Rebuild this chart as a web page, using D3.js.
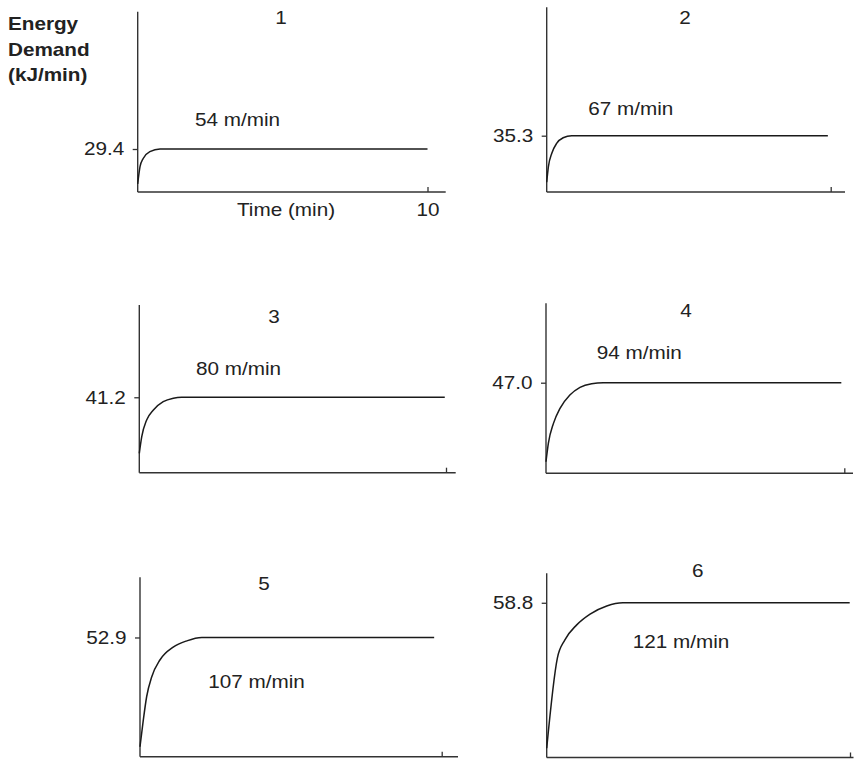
<!DOCTYPE html>
<html>
<head>
<meta charset="utf-8">
<script src="https://cdn.jsdelivr.net/npm/d3@7"></script>
<style>
  html, body { margin: 0; padding: 0; background: #fff; }
  svg { display: block; }
  text { font-family: "Liberation Sans", Arial, Helvetica, sans-serif; fill: #222; }
</style>
</head>
<body>
<script>
// Energy demand (kJ/min) over a 10-minute bout of walking at six speeds.

const panelIds = ["1", "2", "3", "4", "5", "6"];
const speedLabels = ["54 m/min", "67 m/min", "80 m/min", "94 m/min", "107 m/min", "121 m/min"];
const steadyState = [29.4, 35.3, 41.2, 47.0, 52.9, 58.8];   // labelled y tick per panel
const energyAxisMax = [123.3, 115.8, 91.6, 88.2, 79.6, 70.0]; // top of each energy axis
const timeTickValues = [10];
const timeTickLabels = ["10", "", "", "", "", ""];
const yTitleLines = ["Energy", "Demand", "(kJ/min)"];
const xTitle = "Time (min)";

// Energy demand samples: time (min) and energy (kJ/min)
const time1 = [0, 0.08, 0.19, 0.42, 0.77, 10];
const energy1 = [5.5, 17.3, 22.9, 27.6, 29.4, 29.4];
const time2 = [0, 0.06, 0.18, 0.35, 0.58, 0.88, 9.9];
const energy2 = [6.1, 15.9, 24.3, 30.5, 34.0, 35.3, 35.3];
const time3 = [0, 0.08, 0.24, 0.46, 0.78, 1.11, 1.38, 9.96];
const energy3 = [10.6, 19.7, 28.8, 34.3, 38.8, 40.7, 41.2, 41.2];
const time4 = [0, 0.08, 0.25, 0.47, 0.8, 1.14, 1.53, 1.92, 9.9];
const energy4 = [6.0, 15.6, 25.9, 33.7, 40.6, 44.6, 46.5, 47.0, 47.0];
const time5 = [0, 0.11, 0.22, 0.39, 0.66, 1.1, 1.55, 2.05, 9.75];
const energy5 = [4.4, 16.3, 26.6, 35.5, 42.9, 48.6, 51.4, 52.9, 52.9];
const time6 = [0, 0.35, 0.6, 0.99, 1.43, 1.98, 2.51, 9.99];
const energy6 = [3.5, 37.7, 44.7, 50.4, 54.5, 57.6, 58.8, 58.8];

const times = [time1, time2, time3, time4, time5, time6];
const energies = [energy1, energy2, energy3, energy4, energy5, energy6];

// Panel frames (pixels): y-axis x, x at t=10, end of x-axis line, top and bottom of y-axis
const layout = [
  { x0: 137.7, x10: 427.5, xEnd: 445.7, top: 11.7,  bottom: 192.0 },
  { x0: 546.7, x10: 830.7, xEnd: 845.0, top: 7.3,   bottom: 192.0 },
  { x0: 139.3, x10: 446.0, xEnd: 455.7, top: 305.0, bottom: 472.7 },
  { x0: 546.0, x10: 844.3, xEnd: 853.0, top: 303.3, bottom: 473.3 },
  { x0: 140.0, x10: 441.7, xEnd: 458.0, top: 577.3, bottom: 756.7 },
  { x0: 546.7, x10: 850.0, xEnd: 853.5, top: 573.3, bottom: 757.5 }
];
// Panel number (centred) and speed label (left aligned) positions
const numberPos = [[281, 24], [685, 24], [274, 323.3], [686, 317.3], [264, 590], [697.7, 576.7]];
const speedPos = [[195, 126], [588.3, 115], [196, 375], [596.7, 359.3], [208.3, 687.7], [632.7, 648.3]];

const W = 854, H = 759;
const FS = 18;       // body text size
const SX = 1.15;     // horizontal stretch of the lettering
const AXIS = "#333";

const svg = d3.select("body").append("svg")
  .attr("width", W).attr("height", H)
  .attr("viewBox", `0 0 ${W} ${H}`);

function label(g, x, y, str, anchor, bold) {
  return g.append("text")
    .attr("transform", `translate(${x},${y}) scale(${SX},1)`)
    .attr("text-anchor", anchor)
    .style("font-size", FS + "px")
    .style("font-weight", bold ? "bold" : "normal")
    .text(str);
}

panelIds.forEach((id, i) => {
  const L = layout[i];
  const g = svg.append("g").attr("class", "panel panel-" + id);

  const x = d3.scaleLinear().domain([0, 10]).range([L.x0, L.x10]);
  const y = d3.scaleLinear().domain([0, energyAxisMax[i]]).range([L.bottom, L.top]);

  // axis lines
  g.append("line")
    .attr("x1", L.x0).attr("x2", L.x0)
    .attr("y1", y.range()[1]).attr("y2", y.range()[0])
    .attr("stroke", AXIS).attr("stroke-width", 1.4);
  g.append("line")
    .attr("x1", L.x0).attr("x2", L.xEnd)
    .attr("y1", L.bottom).attr("y2", L.bottom)
    .attr("stroke", AXIS).attr("stroke-width", 1.4);

  // y axis: single tick at the steady-state value
  const yAxis = g.append("g")
    .attr("transform", `translate(${L.x0},0)`)
    .call(d3.axisLeft(y).tickValues([steadyState[i]]).tickFormat(d3.format(".1f"))
      .tickSize(5).tickSizeOuter(0));
  yAxis.select(".domain").remove();
  yAxis.selectAll(".tick line").attr("stroke", AXIS).attr("stroke-width", 1.3);
  yAxis.selectAll(".tick text")
    .attr("x", -13.5 / SX)
    .attr("transform", `scale(${SX},1)`)
    .style("font-size", FS + "px")
    .style("font-family", null)
    .attr("fill", "#222");

  // x axis: tick at 10 min pointing inward
  const xAxis = g.append("g")
    .attr("transform", `translate(0,${L.bottom})`)
    .call(d3.axisBottom(x).tickValues(timeTickValues).tickFormat(() => timeTickLabels[i])
      .tickSize(-5).tickSizeOuter(0).tickPadding(11));
  xAxis.select(".domain").remove();
  xAxis.selectAll(".tick line").attr("stroke", AXIS).attr("stroke-width", 1.3);
  xAxis.selectAll(".tick text")
    .attr("transform", `scale(${SX},1)`)
    .style("font-size", FS + "px")
    .style("font-family", null)
    .attr("fill", "#222");

  // energy demand curve
  const pts = times[i].map((t, k) => [t, energies[i][k]]);
  g.append("path")
    .datum(pts)
    .attr("fill", "none")
    .attr("stroke", "#1a1a1a")
    .attr("stroke-width", 1.5)
    .attr("d", d3.line().x(d => x(d[0])).y(d => y(d[1])).curve(d3.curveMonotoneX));

  // panel number and walking speed
  label(g, numberPos[i][0], numberPos[i][1], id, "middle", false);
  label(g, speedPos[i][0], speedPos[i][1], speedLabels[i], "start", false);

  if (i === 0) {
    label(g, 237, 216, xTitle, "start", false);
  }
});

// y-axis title
yTitleLines.forEach((line, k) => {
  label(svg, 8, 30 + k * 25.5, line, "start", true);
});
</script>
</body>
</html>
